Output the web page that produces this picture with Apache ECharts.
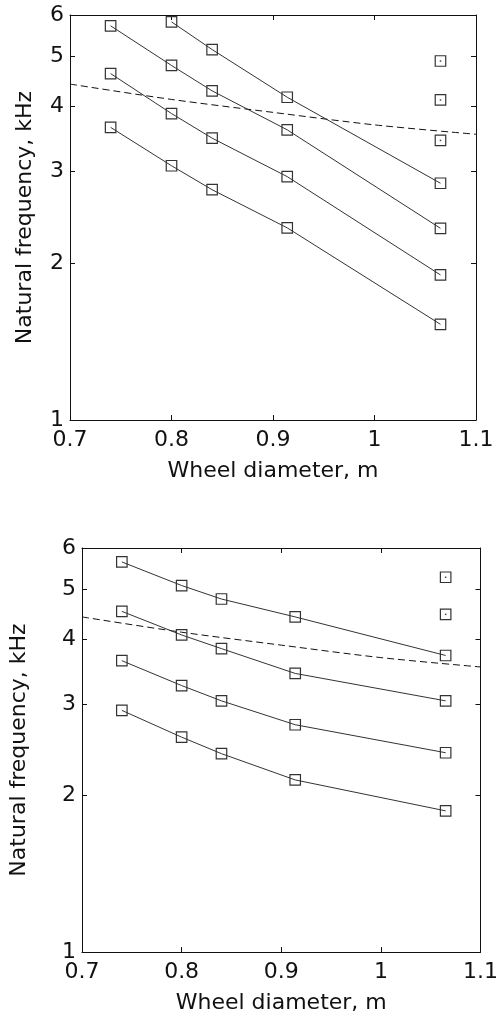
<!DOCTYPE html>
<html>
<head>
<meta charset="utf-8">
<script src="https://cdn.jsdelivr.net/npm/echarts@6/dist/echarts.min.js"></script>
<style>
  html, body { margin: 0; padding: 0; background: #fff; }
  #chart { width: 501px; height: 1018px; }
</style>
</head>
<body>
<div id="chart"></div>
<script>
// Wheel diameters (m) at which the natural frequencies were computed
const wheelDiameter = [0.74, 0.80, 0.84, 0.914, 1.065];

// Upper panel: natural frequencies (kHz) per mode, following wheelDiameter
const upperMode1 = [null, 5.82, 5.15, 4.17, 2.85];
const upperMode2 = [5.72, 4.80, 4.29, 3.61, 2.335];
const upperMode3 = [4.63, 3.88, 3.48, 2.935, 1.90];
const upperMode4 = [3.65, 3.08, 2.77, 2.34, 1.527];
// Upper panel: extra modes found only for the largest wheel
const upperExtraDiameter = [1.065, 1.065, 1.065];
const upperExtra = [4.895, 4.12, 3.445];

// Lower panel: natural frequencies (kHz) per mode
const lowerMode1 = [5.64, 5.08, 4.785, 4.42, 3.725];
const lowerMode2 = [4.53, 4.08, 3.84, 3.44, 3.046];
const lowerMode3 = [3.64, 3.26, 3.046, 2.74, 2.42];
const lowerMode4 = [2.92, 2.593, 2.41, 2.145, 1.87];
const lowerExtraDiameter = [1.065, 1.065];
const lowerExtra = [5.27, 4.47];

// Dashed reference curve (kHz) over the full diameter range
const curveDiameter = [0.7, 0.8, 0.9, 1.0, 1.1];
const curveFrequency = [4.42, 4.13, 3.90, 3.69, 3.54];

// Axis ticks
const xTicks = [0.7, 0.8, 0.9, 1.0, 1.1];
const yTicks = [1, 2, 3, 4, 5, 6];

const FONT = 'DejaVu Sans';
const INK = '#111';
const LINE = '#333';

function pairs(xs, ys) {
  const out = [];
  xs.forEach((x, i) => { if (ys[i] != null) out.push([x, ys[i]]); });
  return out;
}

const panels = [
  { grid: { left: 70, top: 15, width: 406, height: 405 },
    modes: [upperMode1, upperMode2, upperMode3, upperMode4],
    extraX: upperExtraDiameter, extraY: upperExtra, yNameGap: 34 },
  { grid: { left: 79, top: 548, width: 405, height: 404 },
    modes: [lowerMode1, lowerMode2, lowerMode3, lowerMode4],
    extraX: lowerExtraDiameter, extraY: lowerExtra, yNameGap: 52 }
];

const grids = [], xAxes = [], yAxes = [], series = [];

panels.forEach((p, gi) => {
  grids.push(p.grid);
  const tickStyle = { inside: true, length: 5, lineStyle: { color: INK, width: 1 } };
  // bottom x axis with labels
  xAxes.push({
    gridIndex: gi, type: 'value', min: 0.7, max: 1.1, interval: 0.1,
    position: 'bottom',
    name: 'Wheel diameter, m', nameLocation: 'middle', nameGap: 40,
    nameTextStyle: { fontFamily: FONT, fontSize: 22, color: INK },
    axisLine: { show: true, lineStyle: { color: INK, width: 1 } },
    axisTick: tickStyle,
    axisLabel: { fontFamily: FONT, fontSize: 22, color: INK, margin: 9,
      customValues: xTicks,
      formatter: v => String(Math.round(v * 10) / 10) },
    splitLine: { show: false }
  });
  // top x axis: ticks only
  xAxes.push({
    gridIndex: gi, type: 'value', min: 0.7, max: 1.1, interval: 0.1,
    position: 'top',
    axisLine: { show: true, lineStyle: { color: INK, width: 1 } },
    axisTick: tickStyle, axisLabel: { show: false }, splitLine: { show: false }
  });
  // left log y axis with labels
  yAxes.push({
    gridIndex: gi, type: 'log', logBase: 10, min: 1, max: 6,
    position: 'left',
    name: 'Natural frequency, kHz', nameLocation: 'middle', nameGap: p.yNameGap,
    nameRotate: 90,
    nameTextStyle: { fontFamily: FONT, fontSize: 22, color: INK },
    axisLine: { show: true, lineStyle: { color: INK, width: 1 } },
    axisTick: Object.assign({ customValues: yTicks }, tickStyle),
    axisLabel: { fontFamily: FONT, fontSize: 22, color: INK, margin: 6, customValues: yTicks },
    splitLine: { show: false }, minorTick: { show: false }
  });
  // right log y axis: ticks only
  yAxes.push({
    gridIndex: gi, type: 'log', logBase: 10, min: 1, max: 6,
    position: 'right',
    axisLine: { show: true, lineStyle: { color: INK, width: 1 } },
    axisTick: Object.assign({ customValues: yTicks }, tickStyle),
    axisLabel: { show: false, customValues: yTicks },
    splitLine: { show: false }
  });

  const xi = gi * 2, yi = gi * 2;
  p.modes.forEach((m) => {
    series.push({
      type: 'line', xAxisIndex: xi, yAxisIndex: yi,
      data: pairs(wheelDiameter, m),
      symbol: 'rect', symbolSize: 10.5, showAllSymbol: true,
      lineStyle: { color: LINE, width: 1 },
      itemStyle: { color: 'rgba(0,0,0,0)', borderColor: LINE, borderWidth: 1.2, opacity: 1 },
      emphasis: { disabled: true }, animation: false, z: 3
    });
  });
  // extra modes: hollow squares with a centre dot
  series.push({
    type: 'scatter', xAxisIndex: xi, yAxisIndex: yi,
    data: pairs(p.extraX, p.extraY),
    symbol: 'rect', symbolSize: 10.5,
    itemStyle: { color: 'rgba(0,0,0,0)', borderColor: LINE, borderWidth: 1.2, opacity: 1 },
    emphasis: { disabled: true }, animation: false, z: 3
  });
  series.push({
    type: 'scatter', xAxisIndex: xi, yAxisIndex: yi,
    data: pairs(p.extraX, p.extraY),
    symbol: 'rect', symbolSize: 1.5,
    itemStyle: { color: '#444', opacity: 1 },
    emphasis: { disabled: true }, animation: false, z: 4
  });
  // dashed reference curve
  series.push({
    type: 'line', xAxisIndex: xi, yAxisIndex: yi,
    data: pairs(curveDiameter, curveFrequency),
    smooth: 0.3, showSymbol: false, symbol: 'none',
    lineStyle: { color: '#111', width: 1, type: [7, 4] },
    emphasis: { disabled: true }, animation: false, z: 2
  });
});

const chart = echarts.init(document.getElementById('chart'), null, { renderer: 'canvas' });
chart.setOption({
  backgroundColor: '#fff',
  animation: false,
  grid: grids,
  xAxis: xAxes,
  yAxis: yAxes,
  series: series
});
</script>
</body>
</html>
